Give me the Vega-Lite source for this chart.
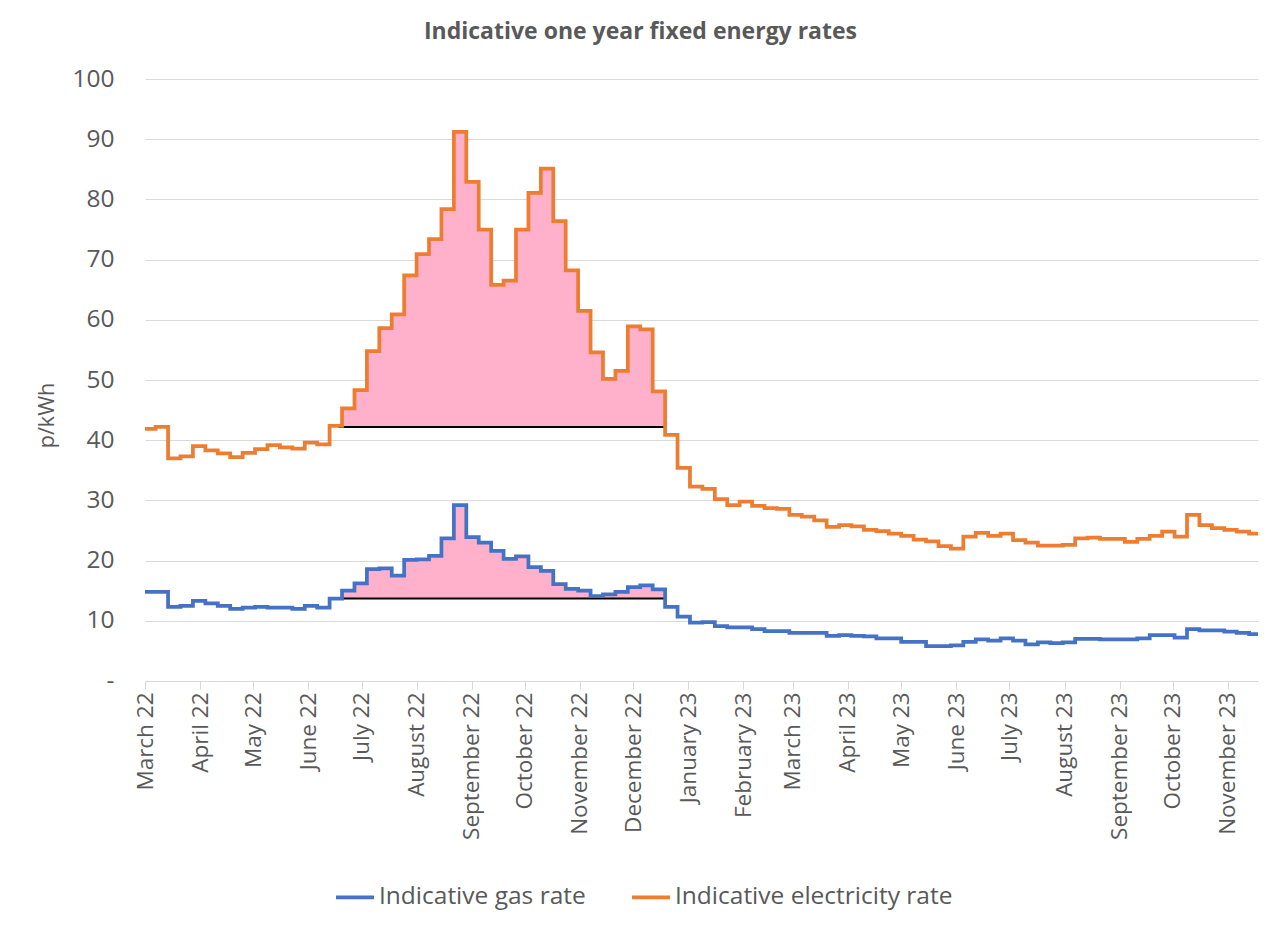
{
  "$schema": "https://vega.github.io/schema/vega-lite/v6.json",
  "width": 1113,
  "height": 602,
  "autosize": {"type": "none"},
  "padding": {"left": 145, "top": 79, "right": 22, "bottom": 249},
  "background": "white",
  "title": {"text": "Indicative one year fixed energy rates", "fontSize": 23, "fontWeight": "bold", "color": "#595959", "font": "Open Sans", "anchor": "middle", "dx": -61, "offset": 22},
  "config": {"font": "Open Sans", "view": {"stroke": null}},
  "datasets": {
    "rates": [
      {"date": "2022-03-01", "Indicative gas rate": 14.8, "Indicative electricity rate": 41.9},
      {"date": "2022-03-07", "Indicative gas rate": 14.8, "Indicative electricity rate": 42.2},
      {"date": "2022-03-14", "Indicative gas rate": 12.3, "Indicative electricity rate": 37.0},
      {"date": "2022-03-21", "Indicative gas rate": 12.5, "Indicative electricity rate": 37.3},
      {"date": "2022-03-28", "Indicative gas rate": 13.3, "Indicative electricity rate": 39.0},
      {"date": "2022-04-04", "Indicative gas rate": 12.9, "Indicative electricity rate": 38.3},
      {"date": "2022-04-11", "Indicative gas rate": 12.5, "Indicative electricity rate": 37.8},
      {"date": "2022-04-18", "Indicative gas rate": 12.0, "Indicative electricity rate": 37.2},
      {"date": "2022-04-25", "Indicative gas rate": 12.2, "Indicative electricity rate": 37.9},
      {"date": "2022-05-02", "Indicative gas rate": 12.3, "Indicative electricity rate": 38.5},
      {"date": "2022-05-09", "Indicative gas rate": 12.2, "Indicative electricity rate": 39.2},
      {"date": "2022-05-16", "Indicative gas rate": 12.2, "Indicative electricity rate": 38.8},
      {"date": "2022-05-23", "Indicative gas rate": 12.0, "Indicative electricity rate": 38.6},
      {"date": "2022-05-30", "Indicative gas rate": 12.5, "Indicative electricity rate": 39.6},
      {"date": "2022-06-06", "Indicative gas rate": 12.2, "Indicative electricity rate": 39.3},
      {"date": "2022-06-13", "Indicative gas rate": 13.7, "Indicative electricity rate": 42.4},
      {"date": "2022-06-20", "Indicative gas rate": 15.0, "Indicative electricity rate": 45.3},
      {"date": "2022-06-27", "Indicative gas rate": 16.2, "Indicative electricity rate": 48.3},
      {"date": "2022-07-04", "Indicative gas rate": 18.6, "Indicative electricity rate": 54.8},
      {"date": "2022-07-11", "Indicative gas rate": 18.7, "Indicative electricity rate": 58.6},
      {"date": "2022-07-18", "Indicative gas rate": 17.5, "Indicative electricity rate": 60.9},
      {"date": "2022-07-25", "Indicative gas rate": 20.1, "Indicative electricity rate": 67.4},
      {"date": "2022-08-01", "Indicative gas rate": 20.2, "Indicative electricity rate": 70.9},
      {"date": "2022-08-08", "Indicative gas rate": 20.8, "Indicative electricity rate": 73.4},
      {"date": "2022-08-15", "Indicative gas rate": 23.7, "Indicative electricity rate": 78.4},
      {"date": "2022-08-22", "Indicative gas rate": 29.2, "Indicative electricity rate": 91.2},
      {"date": "2022-08-29", "Indicative gas rate": 23.9, "Indicative electricity rate": 82.9},
      {"date": "2022-09-05", "Indicative gas rate": 23.0, "Indicative electricity rate": 75.0},
      {"date": "2022-09-12", "Indicative gas rate": 21.6, "Indicative electricity rate": 65.8},
      {"date": "2022-09-19", "Indicative gas rate": 20.3, "Indicative electricity rate": 66.5},
      {"date": "2022-09-26", "Indicative gas rate": 20.7, "Indicative electricity rate": 75.0},
      {"date": "2022-10-03", "Indicative gas rate": 18.9, "Indicative electricity rate": 81.1},
      {"date": "2022-10-10", "Indicative gas rate": 18.3, "Indicative electricity rate": 85.1},
      {"date": "2022-10-17", "Indicative gas rate": 16.1, "Indicative electricity rate": 76.4},
      {"date": "2022-10-24", "Indicative gas rate": 15.3, "Indicative electricity rate": 68.2},
      {"date": "2022-10-31", "Indicative gas rate": 15.0, "Indicative electricity rate": 61.5},
      {"date": "2022-11-07", "Indicative gas rate": 14.1, "Indicative electricity rate": 54.6},
      {"date": "2022-11-14", "Indicative gas rate": 14.4, "Indicative electricity rate": 50.2},
      {"date": "2022-11-21", "Indicative gas rate": 14.8, "Indicative electricity rate": 51.5},
      {"date": "2022-11-28", "Indicative gas rate": 15.6, "Indicative electricity rate": 58.9},
      {"date": "2022-12-05", "Indicative gas rate": 15.9, "Indicative electricity rate": 58.4},
      {"date": "2022-12-12", "Indicative gas rate": 15.2, "Indicative electricity rate": 48.1},
      {"date": "2022-12-19", "Indicative gas rate": 12.3, "Indicative electricity rate": 40.9},
      {"date": "2022-12-26", "Indicative gas rate": 10.7, "Indicative electricity rate": 35.4},
      {"date": "2023-01-02", "Indicative gas rate": 9.7, "Indicative electricity rate": 32.3},
      {"date": "2023-01-09", "Indicative gas rate": 9.8, "Indicative electricity rate": 31.9},
      {"date": "2023-01-16", "Indicative gas rate": 9.1, "Indicative electricity rate": 30.2},
      {"date": "2023-01-23", "Indicative gas rate": 8.9, "Indicative electricity rate": 29.2},
      {"date": "2023-01-30", "Indicative gas rate": 8.9, "Indicative electricity rate": 29.8},
      {"date": "2023-02-06", "Indicative gas rate": 8.6, "Indicative electricity rate": 29.1},
      {"date": "2023-02-13", "Indicative gas rate": 8.3, "Indicative electricity rate": 28.7},
      {"date": "2023-02-20", "Indicative gas rate": 8.3, "Indicative electricity rate": 28.6},
      {"date": "2023-02-27", "Indicative gas rate": 8.0, "Indicative electricity rate": 27.6},
      {"date": "2023-03-06", "Indicative gas rate": 8.0, "Indicative electricity rate": 27.3},
      {"date": "2023-03-13", "Indicative gas rate": 8.0, "Indicative electricity rate": 26.7},
      {"date": "2023-03-20", "Indicative gas rate": 7.5, "Indicative electricity rate": 25.6},
      {"date": "2023-03-27", "Indicative gas rate": 7.6, "Indicative electricity rate": 25.9},
      {"date": "2023-04-03", "Indicative gas rate": 7.5, "Indicative electricity rate": 25.7},
      {"date": "2023-04-10", "Indicative gas rate": 7.4, "Indicative electricity rate": 25.1},
      {"date": "2023-04-17", "Indicative gas rate": 7.1, "Indicative electricity rate": 24.9},
      {"date": "2023-04-24", "Indicative gas rate": 7.1, "Indicative electricity rate": 24.5},
      {"date": "2023-05-01", "Indicative gas rate": 6.5, "Indicative electricity rate": 24.1},
      {"date": "2023-05-08", "Indicative gas rate": 6.5, "Indicative electricity rate": 23.5},
      {"date": "2023-05-15", "Indicative gas rate": 5.8, "Indicative electricity rate": 23.2},
      {"date": "2023-05-22", "Indicative gas rate": 5.8, "Indicative electricity rate": 22.4},
      {"date": "2023-05-29", "Indicative gas rate": 5.9, "Indicative electricity rate": 22.0},
      {"date": "2023-06-05", "Indicative gas rate": 6.5, "Indicative electricity rate": 24.0},
      {"date": "2023-06-12", "Indicative gas rate": 6.9, "Indicative electricity rate": 24.6},
      {"date": "2023-06-19", "Indicative gas rate": 6.7, "Indicative electricity rate": 24.1},
      {"date": "2023-06-26", "Indicative gas rate": 7.1, "Indicative electricity rate": 24.5},
      {"date": "2023-07-03", "Indicative gas rate": 6.7, "Indicative electricity rate": 23.4},
      {"date": "2023-07-10", "Indicative gas rate": 6.1, "Indicative electricity rate": 23.0},
      {"date": "2023-07-17", "Indicative gas rate": 6.4, "Indicative electricity rate": 22.5},
      {"date": "2023-07-24", "Indicative gas rate": 6.3, "Indicative electricity rate": 22.5},
      {"date": "2023-07-31", "Indicative gas rate": 6.4, "Indicative electricity rate": 22.6},
      {"date": "2023-08-07", "Indicative gas rate": 7.0, "Indicative electricity rate": 23.7},
      {"date": "2023-08-14", "Indicative gas rate": 7.0, "Indicative electricity rate": 23.8},
      {"date": "2023-08-21", "Indicative gas rate": 6.9, "Indicative electricity rate": 23.6},
      {"date": "2023-08-28", "Indicative gas rate": 6.9, "Indicative electricity rate": 23.6},
      {"date": "2023-09-04", "Indicative gas rate": 6.9, "Indicative electricity rate": 23.1},
      {"date": "2023-09-11", "Indicative gas rate": 7.1, "Indicative electricity rate": 23.6},
      {"date": "2023-09-18", "Indicative gas rate": 7.6, "Indicative electricity rate": 24.1},
      {"date": "2023-09-25", "Indicative gas rate": 7.6, "Indicative electricity rate": 24.8},
      {"date": "2023-10-02", "Indicative gas rate": 7.2, "Indicative electricity rate": 24.0},
      {"date": "2023-10-09", "Indicative gas rate": 8.6, "Indicative electricity rate": 27.6},
      {"date": "2023-10-16", "Indicative gas rate": 8.4, "Indicative electricity rate": 25.9},
      {"date": "2023-10-23", "Indicative gas rate": 8.4, "Indicative electricity rate": 25.4},
      {"date": "2023-10-30", "Indicative gas rate": 8.2, "Indicative electricity rate": 25.1},
      {"date": "2023-11-06", "Indicative gas rate": 8.0, "Indicative electricity rate": 24.8},
      {"date": "2023-11-13", "Indicative gas rate": 7.8, "Indicative electricity rate": 24.5},
      {"date": "2023-11-18", "Indicative gas rate": 7.8, "Indicative electricity rate": 24.5}
    ],
    "shade": [
      {"series": "Indicative electricity rate", "start": "2022-06-18", "end": "2022-12-19", "baseline": 42.2},
      {"series": "Indicative gas rate", "start": "2022-06-18", "end": "2022-12-19", "baseline": 13.7}
    ]
  },
  "layer": [
    {
      "data": {"name": "rates"},
      "transform": [
        {"filter": "time(datum.date) >= time('2022-06-18') && time(datum.date) <= time('2022-12-19')"}
      ],
      "mark": {"type": "area", "interpolate": "step-after", "color": "#FFB0CB", "opacity": 1},
      "encoding": {
        "x": {
          "field": "date", "type": "temporal", "title": null,
          "scale": {"type": "utc", "domain": [{"year": 2022, "month": 3, "date": 1, "utc": true}, {"year": 2023, "month": 11, "date": 18, "utc": true}]},
          "axis": {
            "values": [
              {"year": 2022, "month": 3, "date": 1, "utc": true},
              {"year": 2022, "month": 4, "date": 1, "utc": true},
              {"year": 2022, "month": 5, "date": 1, "utc": true},
              {"year": 2022, "month": 6, "date": 1, "utc": true},
              {"year": 2022, "month": 7, "date": 1, "utc": true},
              {"year": 2022, "month": 8, "date": 1, "utc": true},
              {"year": 2022, "month": 9, "date": 1, "utc": true},
              {"year": 2022, "month": 10, "date": 1, "utc": true},
              {"year": 2022, "month": 11, "date": 1, "utc": true},
              {"year": 2022, "month": 12, "date": 1, "utc": true},
              {"year": 2023, "month": 1, "date": 1, "utc": true},
              {"year": 2023, "month": 2, "date": 1, "utc": true},
              {"year": 2023, "month": 3, "date": 1, "utc": true},
              {"year": 2023, "month": 4, "date": 1, "utc": true},
              {"year": 2023, "month": 5, "date": 1, "utc": true},
              {"year": 2023, "month": 6, "date": 1, "utc": true},
              {"year": 2023, "month": 7, "date": 1, "utc": true},
              {"year": 2023, "month": 8, "date": 1, "utc": true},
              {"year": 2023, "month": 9, "date": 1, "utc": true},
              {"year": 2023, "month": 10, "date": 1, "utc": true},
              {"year": 2023, "month": 11, "date": 1, "utc": true}
            ],
            "format": "%B %y",
            "labelAngle": 270,
            "labelFontSize": 22.5,
            "labelColor": "#595959",
            "labelFont": "Open Sans",
            "domainColor": "#D9D9D9",
            "tickColor": "#D9D9D9",
            "tickSize": 8,
            "labelPadding": 3,
            "grid": false,
            "labelOverlap": false,
            "labelBound": false,
            "labelFlush": false
          }
        },
        "y": {
          "field": "Indicative electricity rate", "type": "quantitative", "title": "p/kWh",
          "scale": {"domain": [0, 100]},
          "axis": {
            "values": [0, 10, 20, 30, 40, 50, 60, 70, 80, 90, 100],
            "labelExpr": "datum.value == 0 ? '-' : datum.label",
            "labelFontSize": 24.5,
            "labelColor": "#595959",
            "labelFont": "Open Sans",
            "ticks": false,
            "domain": false,
            "gridColor": "#D9D9D9",
            "labelPadding": 31,
            "titleFontSize": 21.5,
            "titleFontWeight": "normal",
            "titleColor": "#595959",
            "titleFont": "Open Sans",
            "titlePadding": 13,
            "titleY": 336
          }
        },
        "y2": {"datum": 42.2}
      }
    },
    {
      "data": {"name": "rates"},
      "transform": [
        {"filter": "time(datum.date) >= time('2022-06-18') && time(datum.date) <= time('2022-12-19')"}
      ],
      "mark": {"type": "area", "interpolate": "step-after", "color": "#FFB0CB", "opacity": 1},
      "encoding": {
        "x": {"field": "date", "type": "temporal", "title": null},
        "y": {"field": "Indicative gas rate", "type": "quantitative", "title": "p/kWh"},
        "y2": {"datum": 13.7}
      }
    },
    {
      "data": {"name": "shade"},
      "mark": {"type": "rule", "color": "black", "strokeWidth": 2},
      "encoding": {
        "x": {"field": "start", "type": "temporal", "title": null},
        "x2": {"field": "end"},
        "y": {"field": "baseline", "type": "quantitative", "title": "p/kWh"}
      }
    },
    {
      "data": {"name": "rates"},
      "transform": [
        {"fold": ["Indicative gas rate", "Indicative electricity rate"], "as": ["series", "value"]}
      ],
      "mark": {"type": "line", "interpolate": "step-after", "strokeWidth": 3.75},
      "encoding": {
        "x": {"field": "date", "type": "temporal", "title": null},
        "y": {"field": "value", "type": "quantitative", "title": "p/kWh"},
        "color": {
          "field": "series", "type": "nominal",
          "scale": {"domain": ["Indicative gas rate", "Indicative electricity rate"], "range": ["#4472C4", "#ED7D31"]},
          "legend": {
            "orient": "none", "legendX": 189, "legendY": 797, "direction": "horizontal", "title": null,
            "labelFontSize": 24.5, "labelColor": "#595959", "labelFont": "Open Sans", "labelLimit": 500,
            "symbolType": "stroke", "symbolStrokeWidth": 3.75, "symbolSize": 1444,
            "columnPadding": 38, "labelOffset": 3
          }
        }
      }
    }
  ]
}
